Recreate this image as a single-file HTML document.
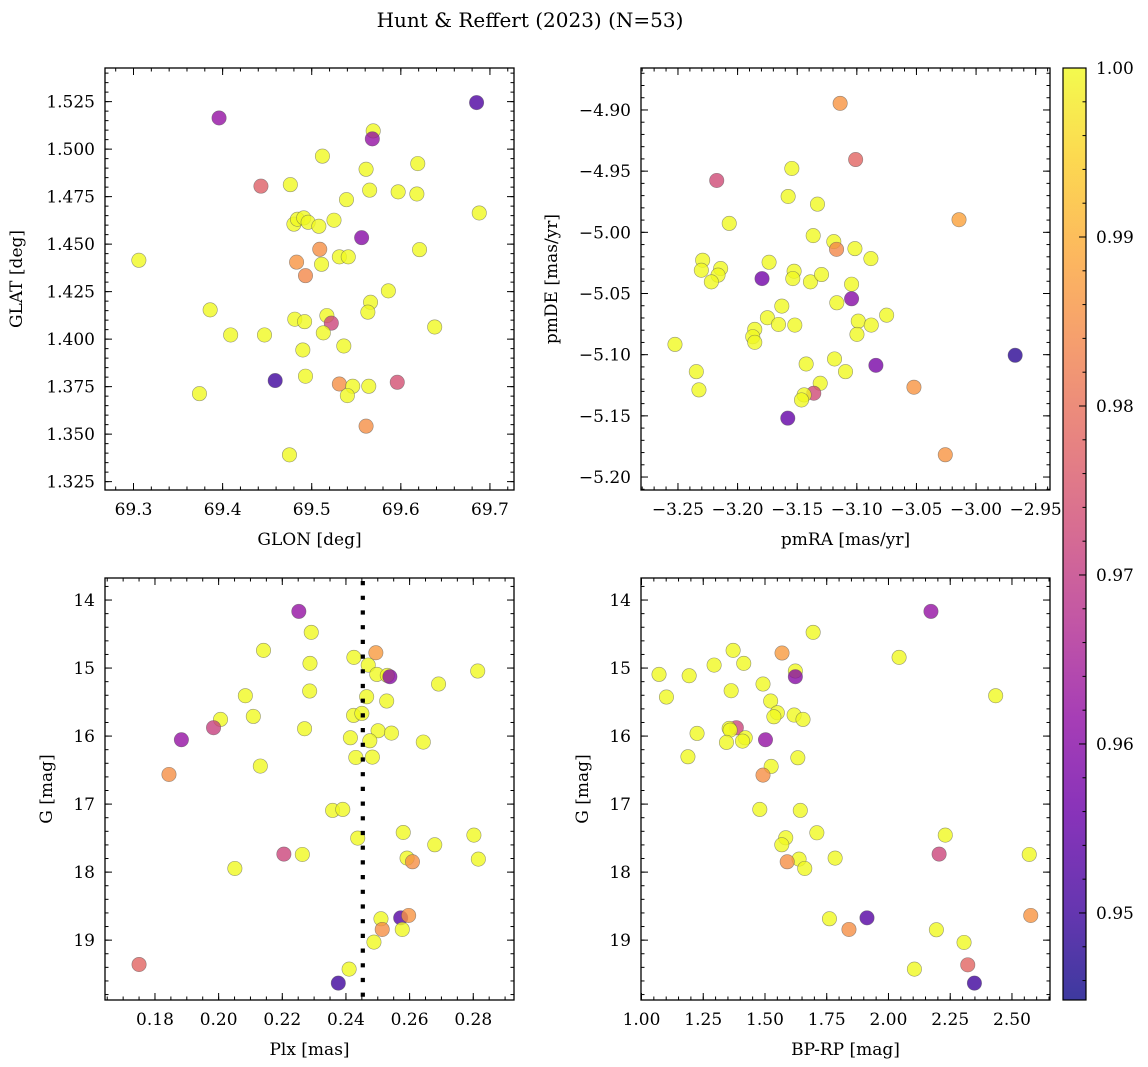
<!DOCTYPE html>
<html><head><meta charset="utf-8"><style>
html,body{margin:0;padding:0;background:#fff;}
svg{display:block;font-family:"DejaVu Serif","Liberation Serif",serif;}
</style></head><body>
<svg id="fig" width="1148" height="1067" viewBox="0 0 1148 1067" xmlns="http://www.w3.org/2000/svg">
<defs>
<linearGradient id="plasmaGrad" x1="0" y1="1" x2="0" y2="0">
<stop offset="0" stop-color="#0d0887"/><stop offset="0.1" stop-color="#41049d"/><stop offset="0.2" stop-color="#6a00a8"/><stop offset="0.3" stop-color="#8f0da4"/><stop offset="0.4" stop-color="#b12a90"/><stop offset="0.5" stop-color="#cc4778"/><stop offset="0.6" stop-color="#e16462"/><stop offset="0.7" stop-color="#f2844b"/><stop offset="0.8" stop-color="#fca636"/><stop offset="0.9" stop-color="#fcce25"/><stop offset="1" stop-color="#f0f921"/>
</linearGradient>
</defs>
<text x="530" y="27" font-size="20" text-anchor="middle">Hunt &amp; Reffert (2023) (N=53)</text>
</svg>
<script>
// ---- data ----
const glon = [69.396,69.685,69.569,69.568,69.512,69.619,69.561,69.443,69.476,69.565,69.597,69.618,69.539,69.688,69.525,69.480,69.484,69.491,69.496,69.508,69.556,69.509,69.621,69.306,69.531,69.541,69.483,69.511,69.493,69.586,69.566,69.563,69.386,69.481,69.492,69.517,69.522,69.638,69.409,69.447,69.513,69.536,69.490,69.493,69.459,69.531,69.546,69.564,69.596,69.540,69.374,69.561,69.475];
const glat = [1.5164,1.5245,1.5096,1.5054,1.4963,1.4924,1.4894,1.4805,1.4813,1.4784,1.4775,1.4764,1.4734,1.4664,1.4626,1.4605,1.4631,1.4638,1.4615,1.4594,1.4534,1.4473,1.4471,1.4415,1.4433,1.4433,1.4405,1.4394,1.4334,1.4254,1.4194,1.4142,1.4154,1.4105,1.4092,1.4124,1.4084,1.4064,1.4022,1.4022,1.4033,1.3964,1.3943,1.3805,1.3782,1.3764,1.3752,1.3752,1.3773,1.3703,1.3713,1.3542,1.3391];
const probA = [0.962,0.952,1,0.962,1,1,1,0.977,1,1,1,1,1,1,1,1,1,1,1,1,0.960,0.985,1,1,1,1,0.986,1,0.984,1,1,1,1,1,1,1,0.972,1,1,1,1,1,1,1,0.950,0.985,1,1,0.974,1,1,0.985,1];

const pmra = [-3.114,-3.101,-3.2175,-3.1545,-3.1576,-3.133,-3.207,-3.0143,-3.1366,-3.1193,-3.117,-3.1016,-3.0882,-3.2293,-3.2304,-3.2142,-3.2164,-3.222,-3.1736,-3.1795,-3.1526,-3.1537,-3.1389,-3.1296,-3.1044,-3.1044,-3.1168,-3.1629,-3.175,-3.1657,-3.152,-3.0988,-3.0999,-3.0879,-3.075,-3.1856,-3.1873,-3.1856,-3.2525,-3.1187,-3.1425,-3.1095,-3.084,-3.2346,-3.2324,-3.1307,-3.1361,-3.1442,-3.1464,-2.9672,-3.0521,-3.1579,-3.0258];
const pmde = [-4.8946,-4.9405,-4.9576,-4.9478,-4.9707,-4.977,-4.9927,-4.9897,-5.0027,-5.0076,-5.0139,-5.0133,-5.0215,-5.0228,-5.031,-5.0296,-5.035,-5.0405,-5.0245,-5.0378,-5.0318,-5.0378,-5.0405,-5.0345,-5.0424,-5.0543,-5.0576,-5.0603,-5.0698,-5.0753,-5.0758,-5.0726,-5.0834,-5.0758,-5.0677,-5.0793,-5.0853,-5.0899,-5.0916,-5.1035,-5.1076,-5.1139,-5.1087,-5.1139,-5.1288,-5.1234,-5.1315,-5.1329,-5.137,-5.1005,-5.1266,-5.1519,-5.1818];
const probB = [0.986,0.978,0.973,1,1,1,1,0.988,1,1,0.984,1,1,1,1,1,1,1,1,0.957,1,1,1,1,1,0.960,1,1,1,1,1,1,1,1,1,1,1,1,1,1,1,1,0.958,1,1,1,0.973,1,1,0.948,0.986,0.955,0.986];

const plx = [0.2252,0.2291,0.2141,0.2425,0.2494,0.2470,0.2287,0.2497,0.2530,0.2538,0.2814,0.2691,0.2286,0.2465,0.2528,0.2084,0.2109,0.2006,0.1984,0.2424,0.2450,0.2270,0.1883,0.2414,0.2501,0.2543,0.2475,0.2643,0.2431,0.2483,0.2131,0.1844,0.2358,0.2390,0.2437,0.2580,0.2802,0.2679,0.2205,0.2263,0.2051,0.2592,0.2609,0.2816,0.2510,0.2572,0.2597,0.2514,0.2577,0.2488,0.2410,0.2376,0.1750];
const gmagC = [14.167,14.475,14.740,14.843,14.775,14.956,14.931,15.093,15.108,15.127,15.044,15.235,15.338,15.422,15.485,15.407,15.711,15.755,15.877,15.696,15.667,15.892,16.054,16.025,15.922,15.956,16.069,16.088,16.314,16.309,16.441,16.564,17.093,17.078,17.500,17.417,17.456,17.598,17.735,17.740,17.946,17.794,17.848,17.809,18.686,18.672,18.637,18.843,18.843,19.029,19.426,19.632,19.358];
const probC = [0.962,1,1,1,0.987,1,1,1,1,0.960,1,1,1,1,1,1,1,1,0.971,1,1,1,0.962,1,1,1,1,1,1,1,1,0.985,1,1,1,1,1,1,0.972,1,1,1,0.985,1,1,0.953,0.986,0.985,1,1,1,0.950,0.978];
const plxMedian = [0.2453];

const bprp = [2.172,1.695,1.371,1.569,2.043,1.294,1.414,1.071,1.193,1.623,1.623,1.101,1.363,1.492,2.434,1.523,1.550,1.536,1.618,1.654,1.384,1.355,1.359,1.225,1.420,1.409,1.344,1.502,1.188,1.633,1.525,1.492,1.479,1.643,1.710,1.584,1.568,2.230,2.205,2.570,1.638,1.661,1.590,1.784,1.761,1.913,2.576,1.840,2.194,2.306,2.105,2.348,2.321];
const gmagD = [14.167,14.475,14.740,14.779,14.843,14.956,14.931,15.093,15.113,15.044,15.127,15.426,15.333,15.235,15.407,15.485,15.657,15.716,15.691,15.755,15.877,15.887,15.912,15.961,16.025,16.074,16.093,16.054,16.304,16.319,16.446,16.574,17.078,17.093,17.422,17.495,17.598,17.456,17.735,17.740,17.809,17.946,17.848,17.794,18.686,18.672,18.637,18.843,18.848,19.034,19.426,19.632,19.363];
const probD = [0.962,1,1,0.987,1,1,1,1,1,1,0.960,1,1,1,1,1,1,1,1,1,0.972,1,1,1,1,1,1,0.962,1,1,1,0.985,1,1,1,1,1,1,0.972,1,1,1,0.985,1,1,0.953,0.986,0.985,1,1,1,0.950,0.978];

const cbTicks = [0.95,0.96,0.97,0.98,0.99,1.00];
const vmin = 0.94485, vmax = 1.0;

// ---- helpers ----
const NS = "http://www.w3.org/2000/svg";
const svg = document.getElementById('fig');
function mk(tag, attrs, parent){ const e=document.createElementNS(NS,tag); for(const k in attrs) e.setAttribute(k,attrs[k]); (parent||svg).appendChild(e); return e; }
const stops=[[13,8,135],[65,4,157],[106,0,168],[143,13,164],[177,42,144],[204,71,120],[225,100,98],[242,132,75],[252,166,54],[252,206,37],[240,249,33]];
function plasma(v){ let t=(v-vmin)/(vmax-vmin); t=Math.max(0,Math.min(1,t)); const f=t*10; const i=Math.min(9,Math.floor(f)); const r=f-i; const a=stops[i],b=stops[i+1]; return `rgb(${Math.round(a[0]+(b[0]-a[0])*r)},${Math.round(a[1]+(b[1]-a[1])*r)},${Math.round(a[2]+(b[2]-a[2])*r)})`; }
function fmt(v,d){ const s=Math.abs(v).toFixed(d); return (v<-1e-9?'\u2212':'')+s; }
function range(a,b,s){ const out=[]; const n=Math.round((b-a)/s); for(let i=0;i<=n;i++) out.push(a+i*s); return out; }
const FS = 17;

function panel(cfg){
  const g = mk('g',{});
  
  
  const {x0,x1,y0,y1} = cfg;
  const sx = v => x0 + (v-cfg.xd[0])/(cfg.xd[1]-cfg.xd[0])*(x1-x0);
  const sy = cfg.yinv ? (v => y0 + (v-cfg.yd[0])/(cfg.yd[1]-cfg.yd[0])*(y1-y0)) : (v => y1 - (v-cfg.yd[0])/(cfg.yd[1]-cfg.yd[0])*(y1-y0));
  const pg = mk('g',{},g);
  
  
  for(let i=0;i<cfg.xs.length;i++){
    const c = mk('circle',{cx:sx(cfg.xs[i]).toFixed(2),cy:sy(cfg.ys[i]).toFixed(2),r:7.2,fill:plasma(cfg.ps[i]),'fill-opacity':0.8,stroke:'#555','stroke-opacity':0.6,'stroke-width':0.6},pg);
    
    
  }
  if(cfg.vline){
    const l = mk('line',{x1:sx(cfg.vline[0]),x2:sx(cfg.vline[0]),y1:y0+3,y2:y1,stroke:'#000','stroke-width':4.2,'stroke-dasharray':'4.2 10.5'},g);
    
    
  }
  const tg = mk('g',{stroke:'#000','stroke-width':1},g);
  
  
  const inX=v=>v>=cfg.xd[0]-1e-9&&v<=cfg.xd[1]+1e-9, inY=v=>v>=cfg.yd[0]-1e-9&&v<=cfg.yd[1]+1e-9;
  range(cfg.xmin[0],cfg.xmin[1],cfg.xmin[2]).filter(inX).forEach(v=>{const x=sx(v); mk('line',{x1:x,x2:x,y1:y1,y2:y1-3.5},tg); mk('line',{x1:x,x2:x,y1:y0,y2:y0+3.5},tg);});
  range(cfg.ymin[0],cfg.ymin[1],cfg.ymin[2]).filter(inY).forEach(v=>{const y=sy(v); mk('line',{x1:x0,x2:x0+3.5,y1:y,y2:y},tg); mk('line',{x1:x1,x2:x1-3.5,y1:y,y2:y},tg);});
  cfg.xt.forEach(v=>{const x=sx(v); mk('line',{x1:x,x2:x,y1:y1,y2:y1-7},tg); mk('line',{x1:x,x2:x,y1:y0,y2:y0+7},tg);
    const t=mk('text',{x:x,y:y1+25,'font-size':FS,'text-anchor':'middle',stroke:'none',fill:'#000'},g); t.textContent=fmt(v,cfg.xdec);
    
    
  });
  cfg.yt.forEach(v=>{const y=sy(v); mk('line',{x1:x0,x2:x0+7,y1:y,y2:y},tg); mk('line',{x1:x1,x2:x1-7,y1:y,y2:y},tg);
    const t=mk('text',{x:x0-10,y:y+6,'font-size':FS,'text-anchor':'end',stroke:'none',fill:'#000'},g); t.textContent=fmt(v,cfg.ydec);
    
    
  });
  const fr = mk('rect',{x:x0,y:y0,width:x1-x0,height:y1-y0,fill:'none',stroke:'#000','stroke-width':1.3},g);
  
  
  const xl = mk('text',{x:(x0+x1)/2,y:y1+55,'font-size':FS,'text-anchor':'middle'},g); xl.textContent=cfg.xlabel;
  
  
  const yl = mk('text',{x:0,y:0,'font-size':FS,'text-anchor':'middle',transform:`translate(${cfg.ylx},${(y0+y1)/2}) rotate(-90)`},g); yl.textContent=cfg.ylabel;
  
  
}

panel({name:'glon-glat-panel',x0:105,x1:514,y0:68,y1:490,xd:[69.268,69.727],yd:[1.3206,1.5427],xs:glon,ys:glat,ps:probA,
  xt:[69.3,69.4,69.5,69.6,69.7],xdec:1,yt:[1.325,1.35,1.375,1.4,1.425,1.45,1.475,1.5,1.525],ydec:3,
  xmin:[69.26,69.74,0.02],ymin:[1.32,1.545,0.005],xlabel:'GLON [deg]',ylabel:'GLAT [deg]',ylx:22});
panel({name:'proper-motion-panel',x0:641,x1:1050,y0:68,y1:490,xd:[-3.281,-2.938],yd:[-5.2106,-4.8657],xs:pmra,ys:pmde,ps:probB,
  xt:[-3.25,-3.2,-3.15,-3.1,-3.05,-3.0,-2.95],xdec:2,yt:[-5.2,-5.15,-5.1,-5.05,-5.0,-4.95,-4.9],ydec:2,
  xmin:[-3.28,-2.94,0.01],ymin:[-5.21,-4.87,0.01],xlabel:'pmRA [mas/yr]',ylabel:'pmDE [mas/yr]',ylx:557});
panel({name:'parallax-magnitude-panel',x0:105,x1:514,y0:578,y1:1000,xd:[0.1643,0.2928],yd:[13.676,19.88],yinv:true,xs:plx,ys:gmagC,ps:probC,vline:plxMedian,
  xt:[0.18,0.2,0.22,0.24,0.26,0.28],xdec:2,yt:[14,15,16,17,18,19],ydec:0,
  xmin:[0.165,0.29,0.005],ymin:[13.8,19.8,0.2],xlabel:'Plx [mas]',ylabel:'G [mag]',ylx:52});
panel({name:'color-magnitude-panel',x0:641,x1:1050,y0:578,y1:1000,xd:[0.998,2.654],yd:[13.676,19.88],yinv:true,xs:bprp,ys:gmagD,ps:probD,
  xt:[1.0,1.25,1.5,1.75,2.0,2.25,2.5],xdec:2,yt:[14,15,16,17,18,19],ydec:0,
  xmin:[1.0,2.65,0.05],ymin:[13.8,19.8,0.2],xlabel:'BP-RP [mag]',ylabel:'G [mag]',ylx:588});

// colorbar
(function(){
  const cx0=1063,cx1=1086,cy0=68,cy1=1000;
  const sy=v=>cy1-(v-vmin)/(vmax-vmin)*(cy1-cy0);
  const g=mk('g',{});
  
  
  mk('rect',{x:cx0,y:cy0,width:cx1-cx0,height:cy1-cy0,fill:'url(#plasmaGrad)','fill-opacity':0.8},g);
  range(0.946,1.0,0.002).forEach(v=>{const y=sy(v); mk('line',{x1:cx1,x2:cx1-3.5,y1:y,y2:y,stroke:'#000'},g);});
  cbTicks.forEach(v=>{const y=sy(v); mk('line',{x1:cx1,x2:cx1-7,y1:y,y2:y,stroke:'#000'},g);
    const t=mk('text',{x:cx1+10,y:y+6,'font-size':FS},g); t.textContent=v.toFixed(2);
    
    
  });
  mk('rect',{x:cx0,y:cy0,width:cx1-cx0,height:cy1-cy0,fill:'none',stroke:'#000','stroke-width':1.2},g);
})();
</script>
</body></html>
